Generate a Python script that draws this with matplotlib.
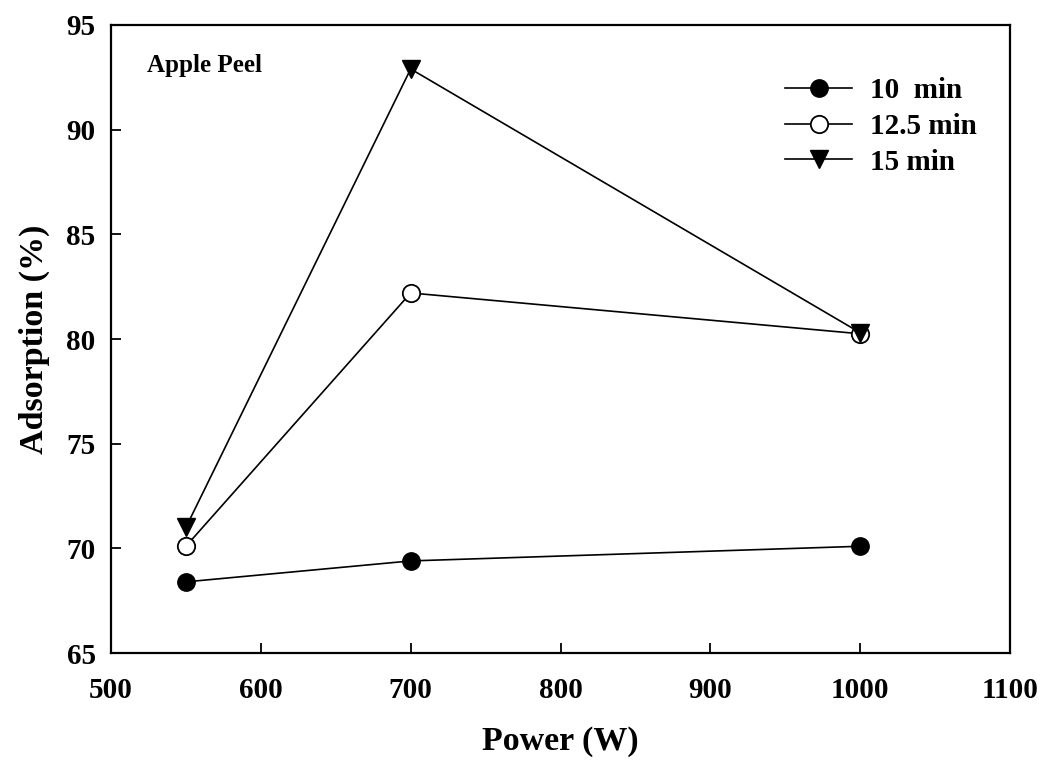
import matplotlib
matplotlib.use("Agg")
import matplotlib.pyplot as plt
from matplotlib.ticker import MultipleLocator

power = [550, 700, 1000]
ads_10 = [68.4, 69.4, 70.1]
ads_125 = [70.1, 82.2, 80.25]
ads_15 = [71.0, 92.9, 80.3]

plt.rcParams['font.family'] = ['Liberation Serif', 'DejaVu Serif']
plt.rcParams['font.weight'] = 'bold'

fig = plt.figure(figsize=(10.43, 7.62), dpi=100)
ax = fig.add_axes([0.1064, 0.143, 0.862, 0.8242])

ax.plot(power, ads_10, '-', color='black', lw=1.2, marker='o', ms=12.5,
        mfc='black', mec='black', label='10  min')
ax.plot(power, ads_125, '-', color='black', lw=1.2, marker='o', ms=12.5,
        mfc='white', mec='black', mew=1.3, label='12.5 min')
ax.plot(power, ads_15, '-', color='black', lw=1.2, marker='v', ms=13,
        mfc='black', mec='black', label='15 min')

ax.set_xlim(500, 1100)
ax.set_ylim(65, 95)
ax.xaxis.set_major_locator(MultipleLocator(100))
ax.yaxis.set_major_locator(MultipleLocator(5))
ax.tick_params(direction='in', length=7, width=1.3, labelsize=21)
ax.tick_params(axis='x', pad=17)
ax.tick_params(axis='y', pad=11)
for lbl in ax.get_xticklabels() + ax.get_yticklabels():
    lbl.set_fontweight('bold')
for s in ax.spines.values():
    s.set_linewidth(1.6)

ax.set_xlabel('Power (W)', fontsize=24.5, fontweight='bold', labelpad=16)
ax.set_ylabel('Adsorption (%)', fontsize=24.5, fontweight='bold', labelpad=12)

ax.text(0.04, 0.936, 'Apple Peel', transform=ax.transAxes, fontsize=18,
        fontweight='bold', va='center', ha='left')

leg = ax.legend(loc='upper left', bbox_to_anchor=(0.75, 0.917), frameon=False,
                fontsize=21, handlelength=2.3, handletextpad=0.62,
                labelspacing=0.3, borderpad=0, borderaxespad=0)
for t in leg.get_texts():
    t.set_fontweight('bold')

fig.savefig('out.png', dpi=100)
